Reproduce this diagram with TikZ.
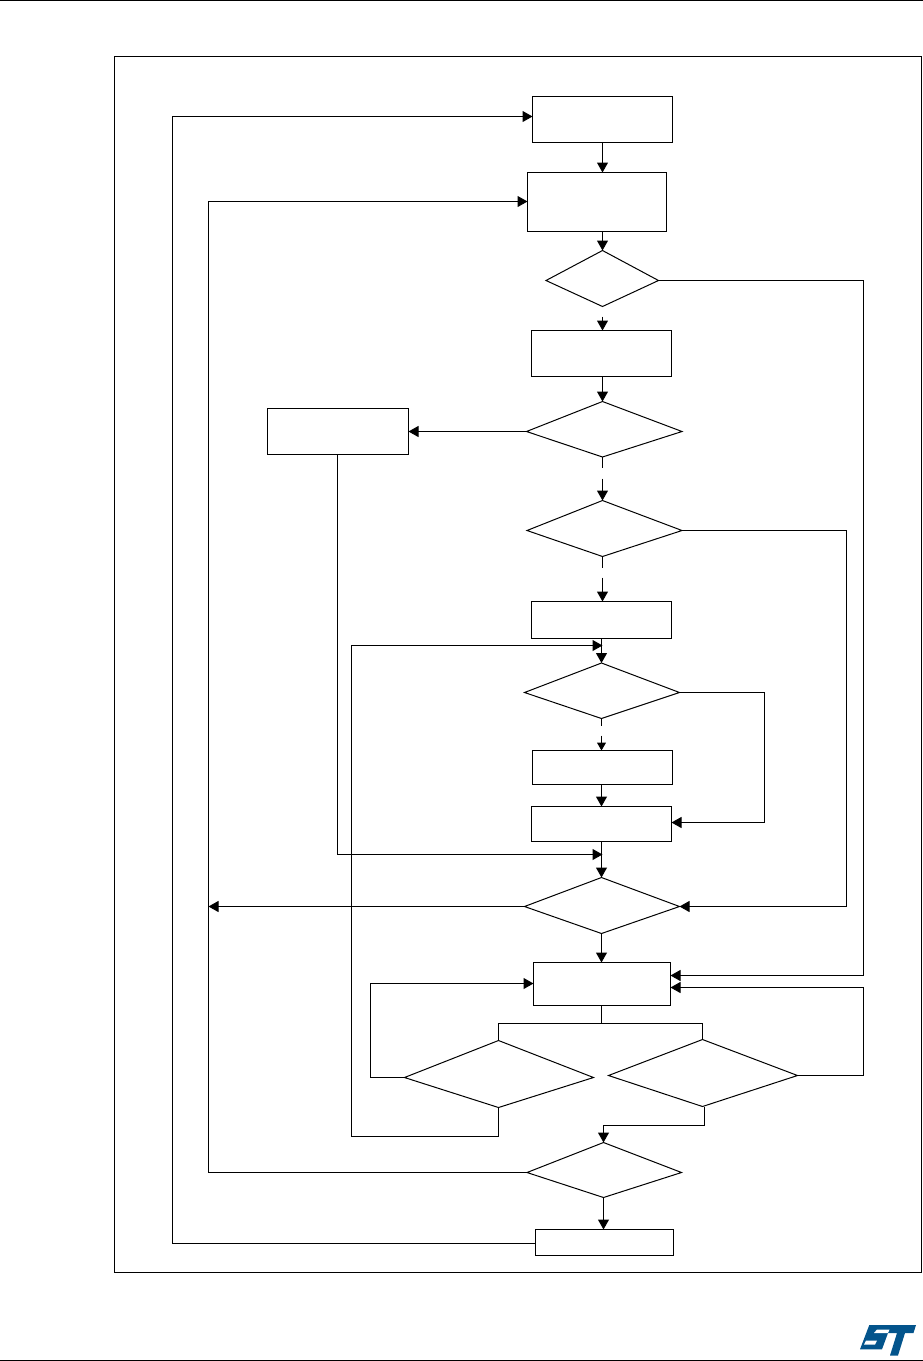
\documentclass[tikz,border=0pt]{standalone}
\usetikzlibrary{arrows.meta}
\definecolor{stblue}{HTML}{03548C}
\tikzset{
  x=0.75pt,y=-0.75pt,
  every path/.style={line width=0.75pt},
  boxn/.style={draw=black,inner sep=0pt,outer sep=0pt,line width=0.75pt},
  tip/.style={-{Triangle[length=7.5pt,width=8.25pt]}},
  smalltip/.style={-{Triangle[length=6pt,width=6.75pt]}},
}
\begin{document}
\begin{tikzpicture}
\useasboundingbox (0,0) rectangle (922,1361);
\begin{scope}[shift={(0.5,0.5)}]
\draw (0,0) -- (922,0);
\draw (0,1360) -- (922,1360);
\draw (114,56) rectangle (921,1272);
% boxes
\node[boxn,minimum width=105pt,minimum height=34.5pt] (r1) at (602,119) {};
\node[boxn,minimum width=104.25pt,minimum height=44.25pt] (r2) at (596.5,201.5) {};
\node[boxn,minimum width=105pt,minimum height=34.5pt] (r3) at (601,353) {};
\node[boxn,minimum width=105.75pt,minimum height=34.5pt] (r4) at (337.5,431) {};
\node[boxn,minimum width=105pt,minimum height=27.75pt] (r5) at (601,619.5) {};
\node[boxn,minimum width=105pt,minimum height=25.5pt] (r6) at (602,767) {};
\node[boxn,minimum width=105pt,minimum height=26.25pt] (r7) at (601,823.5) {};
\node[boxn,minimum width=102.75pt,minimum height=32.25pt] (r8) at (601.5,983.5) {};
\node[boxn,minimum width=103.5pt,minimum height=19.5pt] (r9) at (604,1242) {};
% diamonds
\coordinate (d1n) at (602,250); \coordinate (d1e) at (658,280); \coordinate (d1s) at (602,306); \coordinate (d1w) at (545.5,280);
\coordinate (d2n) at (602,401); \coordinate (d2e) at (681.5,431); \coordinate (d2s) at (602,456.5); \coordinate (d2w) at (526,431);
\coordinate (d3n) at (602,500); \coordinate (d3e) at (681.5,530); \coordinate (d3s) at (602,556); \coordinate (d3w) at (526.5,530);
\coordinate (d4n) at (601,662.5); \coordinate (d4e) at (679,692); \coordinate (d4s) at (601,718); \coordinate (d4w) at (524,692);
\coordinate (d5n) at (601,877); \coordinate (d5e) at (679,906); \coordinate (d5s) at (601,933); \coordinate (d5w) at (524,906);
\coordinate (d6n) at (498,1040); \coordinate (d6e) at (593,1077); \coordinate (d6s) at (498,1107); \coordinate (d6w) at (404,1077);
\coordinate (d7n) at (702,1039); \coordinate (d7e) at (797,1075); \coordinate (d7s) at (702,1106); \coordinate (d7w) at (608,1075);
\coordinate (d8n) at (603,1142); \coordinate (d8e) at (681,1172); \coordinate (d8s) at (603,1197); \coordinate (d8w) at (526.5,1172);
\foreach \d in {d1,d2,d3,d4,d5,d6,d7,d8} \draw (\d n) -- (\d e) -- (\d s) -- (\d w) -- cycle;
% free ends of broken segments
\coordinate (a1) at (602,316);
\coordinate (a2) at (602,467); \coordinate (a3) at (602,478);
\coordinate (a4) at (602,567); \coordinate (a5) at (602,577);
\coordinate (a6) at (601,725); \coordinate (a7) at (601,735);
% vertical flow
\draw[tip] (r1.south -| d1n) -- (r2.north -| d1n);
\draw[tip] (r2.south -| d1n) -- (d1n);
\draw[tip] (a1) -- (r3.north -| a1);
\draw[tip] (r3.south -| d1n) -- (d2n);
\draw (d2s) -- (a2);
\draw[tip] (a3) -- (d3n);
\draw (d3s) -- (a4);
\draw[tip] (a5) -- (r5.north -| a5);
\draw[tip] (r5.south -| d4n) -- (d4n);
\draw (d4s) -- (a6);
\draw[smalltip] (a7) -- (r6.north -| a7);
\draw[tip] (r6.south -| d4n) -- (r7.north -| d4n);
\draw[tip] (r7.south -| d5n) -- (d5n);
\draw[tip] (d5s) -- (r8.north -| d5s);
\draw[tip] (d8s) -- (r9.north -| d8s);
% side branches
\draw[tip] (d2w) -- (r4.east |- d2w);
\draw[tip] (r4.south -| 337,0) -- (337,854) -- (602,854);
\draw[tip] (d4e) -- (764,692) -- (764,822) -- (r7.east |- 0,822);
\draw[tip] (d3e) -- (846,530) -- (846,906) -- (d5e);
\draw[tip] (d1e) -- (863,280) -- (863,975) -- (r8.east |- 0,975);
\coordinate (leftbus) at (208,906);
\draw[tip] (d5w) -- (leftbus);
\draw[tip] (d8w) -- (208,1172) -- (208,201) -- (r2.west |- 0,201);
\draw[tip] (r9.west |- 0,1243) -- (172,1243) -- (172,116) -- (r1.west |- 0,116);
\draw (r8.south -| d5s) -- (d5s |- 0,1023);
\draw (d6n) -- (498,1023) -- (702,1023) -- (d7n);
\draw[tip] (d6w) -- (370,1077) -- (370,983) -- (r8.west |- 0,983);
\draw[tip] (d7e) -- (863,1075) -- (863,987) -- (r8.east |- 0,987);
\draw[tip] (d6s) -- (498,1136) -- (351,1136) -- (351,645) -- (602,645);
\draw[tip] (d7s -| 704,0) -- (704,1125) -- (603,1125) -- (d8n);
\end{scope}
% logo
\fill[stblue] (869.3,1325) -- (916,1325) -- (913.5,1333) -- (905,1333) -- (898,1355.5) -- (890,1355.5) -- (897,1333) -- (888,1333) -- (882,1349.3) -- (860,1349.3) -- cycle;
\fill[white] (874,1333) -- (888,1333) -- (889.5,1329.5) -- (877,1329.5) -- cycle;
\fill[white] (864,1344.5) -- (875,1344.5) -- (877,1340.5) -- (866,1340.5) -- cycle;
\end{tikzpicture}
\end{document}
